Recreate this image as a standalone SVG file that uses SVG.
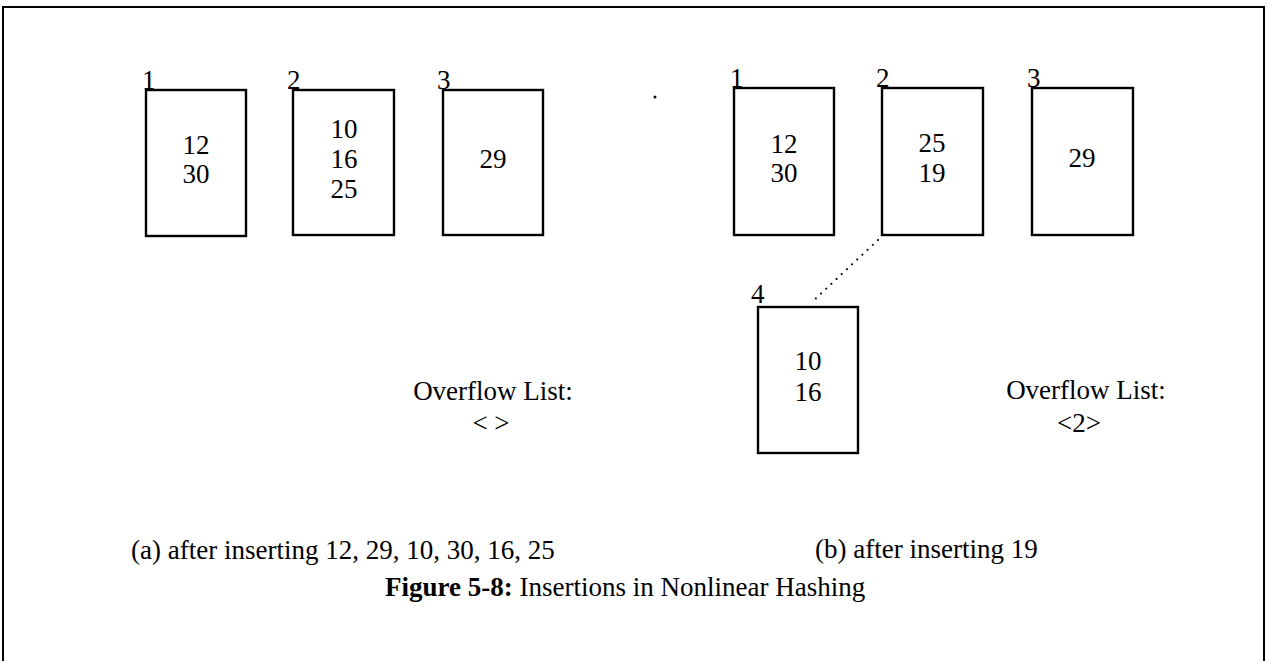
<svg xmlns="http://www.w3.org/2000/svg" width="1268" height="661" viewBox="0 0 1268 661">
<style>
.bx{fill:none;stroke:#000;stroke-width:2.4}
.t{font-family:"Liberation Serif","Times New Roman",serif;font-size:27px;fill:#000}
.c{text-anchor:middle}
.frame{fill:none;stroke:#000;stroke-width:2}
</style>
<rect width="1268" height="661" fill="#fff"/>
<path class="frame" d="M3,661 V7 H1264 V661"/>
<g id="a1"><rect class="bx" x="146" y="90" width="100" height="146"/><text class="t" x="142" y="89">1</text><text class="t c" x="196" y="154">12</text><text class="t c" x="196" y="183">30</text></g>
<g id="a2"><rect class="bx" x="293" y="90" width="101" height="145"/><text class="t" x="287" y="89">2</text><text class="t c" x="344" y="138">10</text><text class="t c" x="344" y="168">16</text><text class="t c" x="344" y="198">25</text></g>
<g id="a3"><rect class="bx" x="443" y="90" width="100" height="145"/><text class="t" x="437" y="89">3</text><text class="t c" x="493" y="168">29</text></g>
<g id="b1"><rect class="bx" x="734" y="88" width="100" height="147"/><text class="t" x="730" y="87">1</text><text class="t c" x="784" y="153">12</text><text class="t c" x="784" y="182">30</text></g>
<g id="b2"><rect class="bx" x="882" y="88" width="101" height="147"/><text class="t" x="876" y="87">2</text><text class="t c" x="932" y="152">25</text><text class="t c" x="932" y="182">19</text></g>
<g id="b3"><rect class="bx" x="1032" y="88" width="101" height="147"/><text class="t" x="1027" y="87">3</text><text class="t c" x="1082" y="167">29</text></g>
<g id="b4"><rect class="bx" x="758" y="307" width="100" height="146"/><text class="t" x="751" y="303">4</text><text class="t c" x="808" y="370">10</text><text class="t c" x="808" y="401">16</text></g>
<g id="connectors"><line x1="878" y1="240" x2="812" y2="302" stroke="#000" stroke-width="2" stroke-dasharray="0.1 7" stroke-linecap="round"/></g>
<circle cx="655" cy="97" r="1.5" fill="#000"/>
<g id="ovA"><text class="t c" x="493" y="400">Overflow List:</text><text class="t c" x="491" y="432">&lt; &gt;</text></g>
<g id="ovB"><text class="t c" x="1086" y="399">Overflow List:</text><text class="t c" x="1079" y="432">&lt;2&gt;</text></g>
<text class="t" x="131" y="559">(a) after inserting 12, 29, 10, 30, 16, 25</text>
<text class="t" x="815" y="558">(b) after inserting 19</text>
<text class="t" x="385" y="596"><tspan font-weight="bold">Figure 5-8:</tspan>  Insertions in Nonlinear Hashing</text>
</svg>
